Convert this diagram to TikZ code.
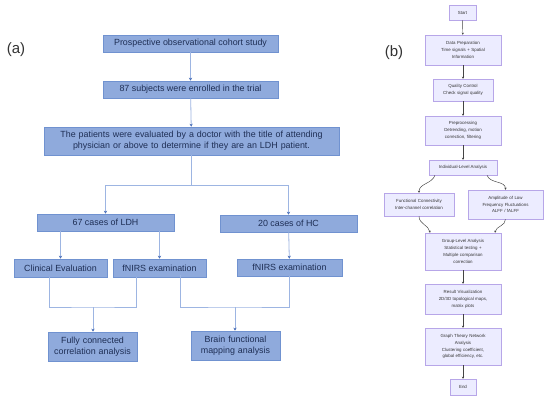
\documentclass[tikz,border=0pt]{standalone}
\usepackage{fontspec}
\setmainfont{Liberation Sans}
\usetikzlibrary{arrows.meta,calc}
\definecolor{afill}{HTML}{8FAADC}
\definecolor{adraw}{HTML}{7092D0}
\definecolor{atext}{HTML}{1F2F55}
\definecolor{aline}{HTML}{9DB5E2}
\definecolor{ahead}{HTML}{4A6FB8}
\definecolor{bfill}{HTML}{ECECFF}
\definecolor{bdraw}{HTML}{B7A6E8}
\definecolor{btext}{HTML}{333333}
\definecolor{bline}{HTML}{444444}
\tikzset{
  abox/.style={draw=adraw, line width=0.6pt, fill=afill, text=atext, inner sep=1pt,
    font=\fontsize{8.9}{11}\selectfont, align=center},
  aconn/.style={draw=aline, line width=0.8pt},
  aarrow/.style={aconn, -{Stealth[length=3pt,width=3.2pt,color=ahead]}},
  bbox/.style={draw=bdraw, line width=0.5pt, fill=bfill, text=btext, inner sep=1pt,
    font=\fontsize{4.4}{6.9}\selectfont, align=center},
  barrow/.style={draw=bline, line width=0.45pt, -{Stealth[length=2pt,width=2pt]}},
  plabel/.style={font=\fontsize{15}{17}\selectfont, text=black!80}
}
\begin{document}
\begin{tikzpicture}[x=1pt,y=-1pt]
\useasboundingbox (0,0) rectangle (550,400);
\fill[white] (0,0) rectangle (550,400);

% ---------- panel (a) ----------
\node[plabel] (la) at (16,50) {(a)};
\node[abox, minimum width=175pt, minimum height=17pt] (b1) at (190.5,43.5) {Prospective observational cohort study};
\node[abox, minimum width=175pt, minimum height=17pt] (b2) at (190.5,89.5) {87 subjects were enrolled in the trial};
\node[abox, minimum width=295pt, minimum height=28pt, text width=292pt] (b3) at (191.5,141)
  {The patients were evaluated by a doctor with the title of attending\\physician or above to determine if they are an LDH patient.};
\node[abox, minimum width=137pt, minimum height=17pt] (b4) at (105.5,222.5) {67 cases of LDH};
\node[abox, minimum width=137pt, minimum height=17pt] (b5) at (288.5,223.5) {20 cases of HC};
\node[abox, minimum width=93pt, minimum height=18pt] (b6) at (60.5,268) {Clinical Evaluation};
\node[abox, minimum width=93pt, minimum height=18pt] (b7) at (159.5,268) {fNIRS examination};
\node[abox, minimum width=105pt, minimum height=17pt] (b8) at (289.5,267.5) {fNIRS examination};
\node[abox, minimum width=89pt, minimum height=29pt, text width=87pt] (b9) at (92.5,346.5) {Fully connected\\correlation analysis};
\node[abox, minimum width=89pt, minimum height=29pt, text width=87pt] (b10) at (235.5,345.5) {Brain functional\\mapping analysis};

\coordinate (split) at (191.5,185);
\coordinate (j1) at (93,307);
\coordinate (j2) at (235,307);

\draw[aarrow] (b1) -- (b2);
\draw[aarrow] (b2) -- (b3);
\draw[aconn] (b3) -- (split);
\draw[aarrow] (split) -| (b4.north);
\draw[aarrow] (split) -| (b5.north);
\draw[aarrow] (b6.north |- b4.south) -- (b6.north);
\draw[aarrow] (b7.north |- b4.south) -- (b7.north);
\draw[aarrow] (b5) -- (b8);
\draw[aconn] ([xshift=-11.5pt]b6.south) |- (j1) -| ([xshift=-23.5pt]b7.south);
\draw[aarrow] (j1) -- (j1 |- b9.north);
\draw[aconn] ([xshift=20.5pt,yshift=2pt]b7.south) |- (j2) -| (b8.south);
\draw[aarrow] (j2) -- (j2 |- b10.north);

% ---------- panel (b) ----------
\node[plabel] (lb) at (394,53) {(b)};
\node[bbox, minimum width=27pt, minimum height=15pt] (s) at (462.5,12.5) {Start};
\node[bbox, minimum width=76pt, minimum height=30pt, text width=72pt] (dp) at (463,50) {Data Preparation\\Time signals + Spatial\\Information};
\node[bbox, minimum width=60pt, minimum height=22pt, text width=56pt] (qc) at (463,90) {Quality Control\\Check signal quality};
\node[bbox, minimum width=76pt, minimum height=29pt, text width=72pt] (pp) at (463,130.5) {Preprocessing\\Detrending, motion\\correction, filtering};
\node[bbox, minimum width=68pt, minimum height=15pt] (il) at (463,167.5) {Individual-Level Analysis};
\node[bbox, minimum width=70pt, minimum height=23pt, text width=66pt] (fc) at (419,204.5) {Functional Connectivity\\Inter-channel correlation};
\node[bbox, minimum width=75pt, minimum height=29pt, text width=71pt] (al) at (505.5,204.5) {Amplitude of Low\\Frequency Fluctuations\\ALFF / fALFF};
\node[bbox, minimum width=76pt, minimum height=37pt, text width=72pt] (gl) at (463,251.5) {Group-Level Analysis\\Statistical testing +\\Multiple comparison\\correction};
\node[bbox, minimum width=76pt, minimum height=30pt, text width=72pt] (rv) at (463,299) {Result Visualization\\2D/3D topological maps,\\matrix plots};
\node[bbox, minimum width=76pt, minimum height=37pt, text width=72pt] (gt) at (463,346.5) {Graph Theory Network\\Analysis\\Clustering coefficient,\\global efficiency, etc.};
\node[bbox, minimum width=26pt, minimum height=16pt] (en) at (463,387) {End};

\draw[barrow] (s) -- (dp);
\draw[barrow] (dp) -- (qc);
\draw[barrow] (qc) -- (pp);
\draw[barrow] (pp) -- (il);
\draw[barrow] ([xshift=-28pt]il.south) to[out=-110,in=90] (fc.north);
\draw[barrow] ([xshift=24pt]il.south) to[out=-70,in=90] (al.north);
\draw[barrow] (fc.south) to[out=-90,in=100] ([xshift=-33pt]gl.north);
\draw[barrow] (al.south) to[out=-90,in=80] ([xshift=32pt]gl.north);
\draw[barrow] (gl) -- (rv);
\draw[barrow] (rv) -- (gt);
\draw[barrow] (gt) -- (en);
\end{tikzpicture}
\end{document}
